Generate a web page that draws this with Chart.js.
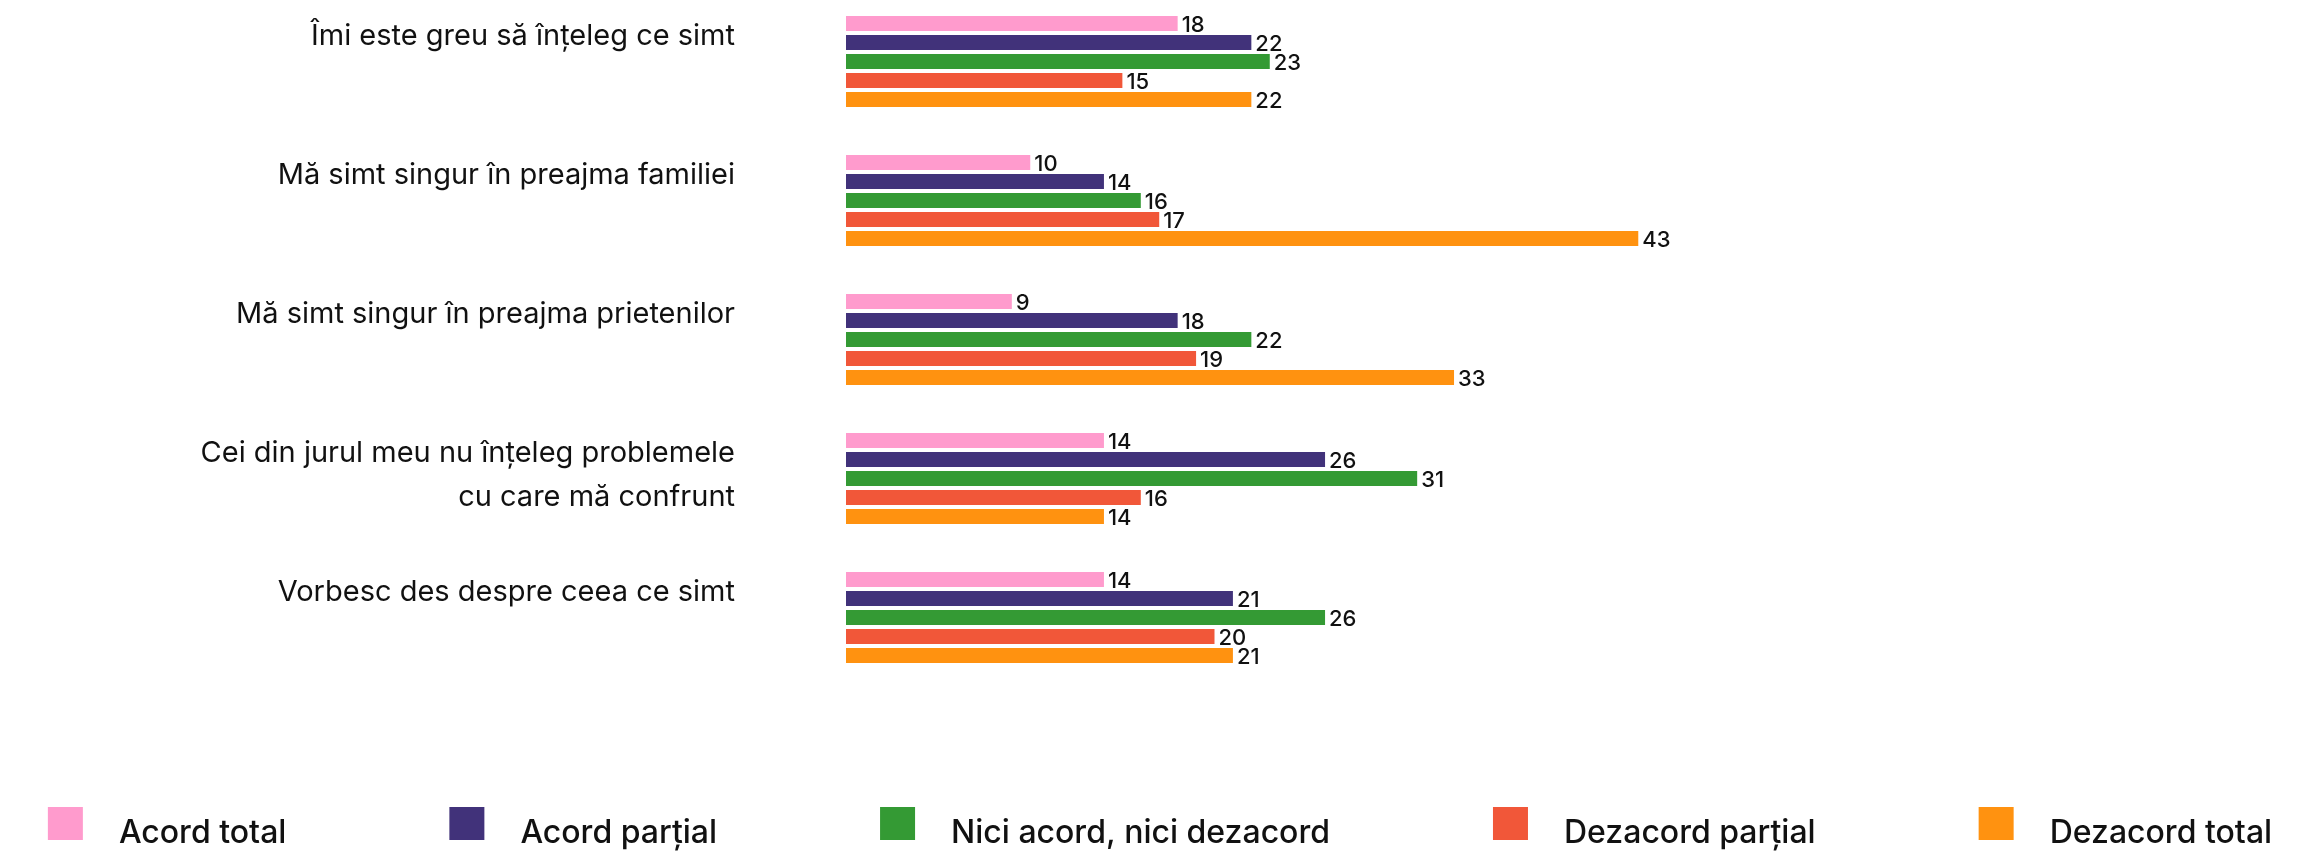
<!DOCTYPE html>
<html>
<head>
<meta charset="utf-8">
<script src="https://cdn.jsdelivr.net/npm/chart.js@4.4.1/dist/chart.umd.min.js"></script>
<style>
    html, body { margin: 0; padding: 0; background: #ffffff; }
    #emotiiChart { display: block; }
</style>
</head>
<body>
<canvas id="emotiiChart" width="2320" height="851"></canvas>
<script>
// Statements (y axis), one group of bars each
const categories = [
    ['Îmi este greu să înțeleg ce simt'],
    ['Mă simt singur în preajma familiei'],
    ['Mă simt singur în preajma prietenilor'],
    ['Cei din jurul meu nu înțeleg problemele', 'cu care mă confrunt'],
    ['Vorbesc des despre ceea ce simt']
];

// Answer series
const seriesNames = ['Acord total', 'Acord parțial', 'Nici acord, nici dezacord', 'Dezacord parțial', 'Dezacord total'];
const acordTotal = [18, 10, 9, 14, 14];
const acordPartial = [22, 14, 18, 26, 21];
const niciAcord = [23, 16, 22, 31, 26];
const dezacordPartial = [15, 17, 19, 16, 20];
const dezacordTotal = [22, 43, 33, 14, 21];

const seriesColors = ['#FF9BCD', '#41327A', '#349A34', '#F15739', '#FF9210'];

const FONT = 'Inter, "Open Sans", sans-serif';

// Draws the value at the end of every bar
const barValueLabels = {
    id: 'barValueLabels',
    afterDatasetsDraw(chart) {
        const ctx = chart.ctx;
        ctx.save();
        ctx.font = '500 22px ' + FONT;
        ctx.fillStyle = '#111111';
        ctx.textAlign = 'left';
        ctx.textBaseline = 'middle';
        chart.data.datasets.forEach((ds, i) => {
            chart.getDatasetMeta(i).data.forEach((bar, j) => {
                ctx.fillText(ds.data[j], bar.x + 4, bar.y + 1.5);
            });
        });
        ctx.restore();
    }
};

// Single-row legend along the bottom edge, wide spacing between entries
const bottomLegend = {
    id: 'bottomLegend',
    afterDraw(chart, args, opts) {
        const ctx = chart.ctx;
        const items = chart.data.datasets;
        ctx.save();
        ctx.font = '500 ' + opts.fontSize + 'px ' + FONT;
        ctx.textAlign = 'left';
        ctx.textBaseline = 'middle';
        const widths = items.map(ds => opts.boxWidth + opts.textGap + ctx.measureText(ds.label).width);
        const total = widths.reduce((a, b) => a + b, 0) + opts.itemGap * (items.length - 1);
        let x = (chart.width - total) / 2;
        items.forEach((ds, i) => {
            ctx.fillStyle = ds.backgroundColor;
            ctx.fillRect(x, opts.boxTop, opts.boxWidth, opts.boxHeight);
            ctx.fillStyle = '#111111';
            ctx.fillText(ds.label, x + opts.boxWidth + opts.textGap, opts.textY);
            x += widths[i] + opts.itemGap;
        });
        ctx.restore();
    }
};

document.addEventListener('DOMContentLoaded', function() {
    const values = [acordTotal, acordPartial, niciAcord, dezacordPartial, dezacordTotal];
    const ctx = document.getElementById('emotiiChart').getContext('2d');

    window.emotiiChart = new Chart(ctx, {
        type: 'bar',
        data: {
            labels: categories,
            datasets: values.map((data, i) => ({
                label: seriesNames[i],
                data: data,
                backgroundColor: seriesColors[i],
                categoryPercentage: 0.683,
                barPercentage: 0.79,
                clip: false
            }))
        },
        options: {
            indexAxis: 'y',
            responsive: false,
            devicePixelRatio: 1,
            animation: false,
            layout: {
                padding: { top: 61.5, right: 0, bottom: 0, left: 0 }
            },
            scales: {
                x: {
                    min: 0,
                    max: 80,
                    grid: { display: false, drawTicks: false },
                    border: { display: false },
                    ticks: { display: false },
                    afterFit: function(scale) { scale.height = 233.5; }
                },
                y: {
                    offset: false,
                    grid: { display: false, drawTicks: false },
                    border: { display: false },
                    ticks: {
                        autoSkip: false,
                        color: '#111111',
                        padding: 111,
                        labelOffset: -3.5,
                        font: { family: FONT, size: 29, lineHeight: 1.52 },
                        // pad every label to two lines so the first line sits above the bars' middle
                        callback: function(value) {
                            const lines = [].concat(this.getLabelForValue(value));
                            while (lines.length < 2) lines.push('');
                            return lines;
                        }
                    },
                    // fixed axis width; labels may overhang the chart area vertically
                    afterFit: function(scale) {
                        scale.width = 846;
                        scale.paddingTop = 0;
                        scale.paddingBottom = 0;
                    }
                }
            },
            plugins: {
                legend: { display: false },
                tooltip: { enabled: false },
                bottomLegend: {
                    fontSize: 32,
                    boxWidth: 35,
                    boxHeight: 33,
                    textGap: 36,
                    itemGap: 163,
                    boxTop: 807,
                    textY: 833
                }
            }
        },
        plugins: [barValueLabels, bottomLegend]
    });
});
</script>
</body>
</html>
